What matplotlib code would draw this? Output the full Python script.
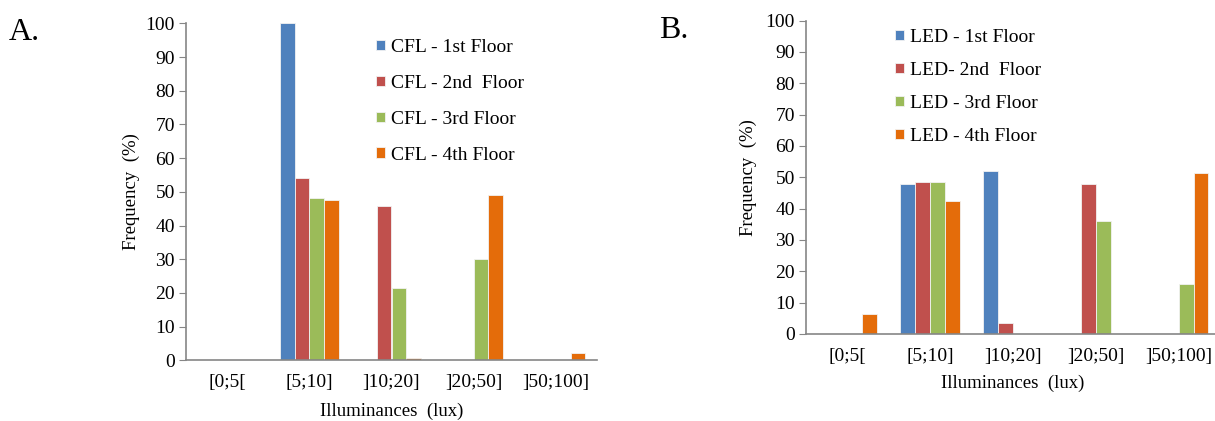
import numpy as np
import matplotlib
matplotlib.use("Agg")
from matplotlib import pyplot as plt

matplotlib.rcParams['font.family'] = ['Liberation Serif', 'DejaVu Serif']

# -----------------------------------------------------------#
# Data
# -----------------------------------------------------------#
categories = ["[0;5[", "[5;10]", "]10;20]", "]20;50]", "]50;100]"]

cfl_labels = ["CFL - 1st Floor", "CFL - 2nd  Floor", "CFL - 3rd Floor", "CFL - 4th Floor"]
cfl_1st = [0, 100, 0, 0, 0]
cfl_2nd = [0, 54.1, 45.8, 0, 0]
cfl_3rd = [0, 48.2, 21.6, 30.1, 0]
cfl_4th = [0, 47.6, 0.8, 49.1, 2.3]

led_labels = ["LED - 1st Floor", "LED- 2nd  Floor", "LED - 3rd Floor", "LED - 4th Floor"]
led_1st = [0, 47.8, 52.0, 0, 0]
led_2nd = [0, 48.4, 3.6, 47.8, 0]
led_3rd = [0, 48.4, 0, 36.0, 15.8]
led_4th = [6.5, 42.4, 0, 0, 51.4]

colors = ["#4F81BD", "#C0504D", "#9BBB59", "#E46C0A"]
y_ticks = np.arange(0, 101, 10)

# -----------------------------------------------------------#
# Figure
# -----------------------------------------------------------#
fig = plt.figure(figsize=(12.15, 4.21), dpi=100)
ax1 = fig.add_axes([186/1215, 1-360.3/421, (597-186)/1215, (360.3-23.3)/421])
ax2 = fig.add_axes([806/1215, 1-334/421, (1220-806)/1215, (334-20.5)/421])


def draw_panel(ax, series, labels, leg_xy, spacing, ylpad, xlpad):
    x = np.arange(len(categories))
    w = 0.18
    for k in range(len(series)):
        ax.bar(x + (k-1.5)*w, series[k], w, color=colors[k], label=labels[k],
               edgecolor="#F2F2F2", linewidth=0.6, zorder=2)
    ax.set_xlim(-0.5, len(categories)-0.5)
    ax.set_ylim(0, 100)
    ax.set_yticks(y_ticks)
    ax.set_xticks(x)
    ax.set_xticklabels(categories, fontsize=14)
    ax.tick_params(axis='y', labelsize=14, length=5, color="#868686", pad=3)
    ax.tick_params(axis='x', length=0, pad=10)
    for s in ["top", "right"]:
        ax.spines[s].set_visible(False)
    for s in ["left", "bottom"]:
        ax.spines[s].set_color("#868686")
        ax.spines[s].set_linewidth(1.2)
    ax.set_ylabel("Frequency  (%)", fontsize=13.5, labelpad=ylpad)
    ax.set_xlabel("Illuminances  (lux)", fontsize=13.5, labelpad=xlpad)
    ax.legend(loc='upper left', bbox_to_anchor=leg_xy, bbox_transform=fig.transFigure,
              frameon=False, fontsize=14, handlelength=0.45, handleheight=0.45,
              handletextpad=0.3, labelspacing=spacing, borderpad=0, borderaxespad=0)


draw_panel(ax1, [cfl_1st, cfl_2nd, cfl_3rd, cfl_4th], cfl_labels, (376/1215, 1-39/421), 0.97, 4, 8)
draw_panel(ax2, [led_1st, led_2nd, led_3rd, led_4th], led_labels, (895/1215, 1-29/421), 0.82, 6, 7)

fig.text(9/1215, 1-40/421, "A.", fontsize=23)
fig.text(659/1215, 1-38/421, "B.", fontsize=23)

plt.savefig("out.png", dpi=100)
